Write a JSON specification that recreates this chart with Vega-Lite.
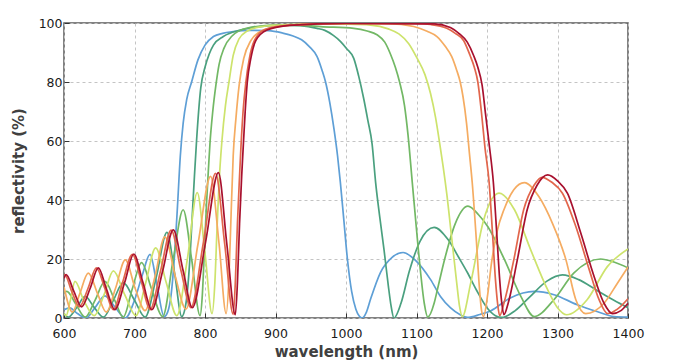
{
"$schema":"https://vega.github.io/schema/vega-lite/v6.json",
"width":564,"height":295,
"autosize":{"type":"none"},
"padding":{"left":64,"top":23,"right":52,"bottom":46},
"background":"white",
"config":{"view":{"stroke":"#5a5a5a","strokeWidth":1.5},"font":"DejaVu Sans"},
"data":{"values":[
{"s":1,"w":600,"r":2.8},{"s":1,"w":608,"r":3.4},{"s":1,"w":619,"r":1.5},{"s":1,"w":631,"r":0},{"s":1,"w":644,"r":3.5},{"s":1,"w":658,"r":7.5},{"s":1,"w":672,"r":3.8},{"s":1,"w":687,"r":0},{"s":1,"w":700,"r":6},{"s":1,"w":711,"r":14.5},{"s":1,"w":722,"r":21.6},{"s":1,"w":732,"r":11},{"s":1,"w":742,"r":0.5},{"s":1,"w":747,"r":2},{"s":1,"w":752,"r":8},{"s":1,"w":757,"r":22},{"s":1,"w":761,"r":38},{"s":1,"w":765,"r":55},{"s":1,"w":769,"r":66},{"s":1,"w":774,"r":74},{"s":1,"w":781,"r":80},{"s":1,"w":790,"r":87.5},{"s":1,"w":800,"r":92.5},{"s":1,"w":812,"r":95.4},{"s":1,"w":825,"r":96.5},{"s":1,"w":840,"r":97.1},{"s":1,"w":865,"r":97.5},{"s":1,"w":890,"r":97.4},{"s":1,"w":910,"r":96.6},{"s":1,"w":925,"r":95.6},{"s":1,"w":937,"r":94.3},{"s":1,"w":948,"r":92},{"s":1,"w":959,"r":88.6},{"s":1,"w":966,"r":84},{"s":1,"w":971,"r":80},{"s":1,"w":977,"r":73},{"s":1,"w":983,"r":64},{"s":1,"w":988,"r":55},{"s":1,"w":992,"r":46},{"s":1,"w":997,"r":33},{"s":1,"w":1002,"r":20},{"s":1,"w":1008,"r":9},{"s":1,"w":1014,"r":3},{"s":1,"w":1019,"r":0.6},{"s":1,"w":1023,"r":0},{"s":1,"w":1029,"r":2},{"s":1,"w":1035,"r":6.5},{"s":1,"w":1049,"r":15.5},{"s":1,"w":1065,"r":20.5},{"s":1,"w":1081,"r":22.2},{"s":1,"w":1100,"r":19.2},{"s":1,"w":1120,"r":13},{"s":1,"w":1134,"r":7.3},{"s":1,"w":1148,"r":3.5},{"s":1,"w":1162,"r":1.1},{"s":1,"w":1172,"r":0.2},{"s":1,"w":1190,"r":1.2},{"s":1,"w":1205,"r":2.4},{"s":1,"w":1233,"r":6.8},{"s":1,"w":1267,"r":9},{"s":1,"w":1295,"r":7.9},{"s":1,"w":1328,"r":4.5},{"s":1,"w":1356,"r":2.2},{"s":1,"w":1380,"r":0.5},{"s":1,"w":1400,"r":0.3},
{"s":2,"w":600,"r":1.5},{"s":2,"w":606,"r":0.3},{"s":2,"w":618,"r":3.5},{"s":2,"w":630,"r":7.3},{"s":2,"w":643,"r":3.5},{"s":2,"w":656,"r":0.3},{"s":2,"w":670,"r":6},{"s":2,"w":684,"r":12},{"s":2,"w":700,"r":6},{"s":2,"w":715,"r":0.3},{"s":2,"w":731,"r":14},{"s":2,"w":746,"r":29},{"s":2,"w":757,"r":15},{"s":2,"w":767,"r":0.5},{"s":2,"w":773,"r":5},{"s":2,"w":778,"r":18},{"s":2,"w":782,"r":35},{"s":2,"w":785,"r":48},{"s":2,"w":788,"r":60},{"s":2,"w":794,"r":78},{"s":2,"w":800,"r":85},{"s":2,"w":806,"r":89.5},{"s":2,"w":812,"r":92.5},{"s":2,"w":826,"r":95.4},{"s":2,"w":850,"r":97.6},{"s":2,"w":870,"r":98.5},{"s":2,"w":890,"r":99.1},{"s":2,"w":912,"r":99.3},{"s":2,"w":935,"r":99.1},{"s":2,"w":959,"r":98.2},{"s":2,"w":970,"r":97.5},{"s":2,"w":982,"r":95.8},{"s":2,"w":992,"r":93.8},{"s":2,"w":1001,"r":91.3},{"s":2,"w":1011,"r":88},{"s":2,"w":1018,"r":82},{"s":2,"w":1025,"r":74.5},{"s":2,"w":1031,"r":67},{"s":2,"w":1037,"r":59},{"s":2,"w":1042,"r":46},{"s":2,"w":1048,"r":34},{"s":2,"w":1054,"r":23},{"s":2,"w":1060,"r":11},{"s":2,"w":1064,"r":4},{"s":2,"w":1068,"r":0},{"s":2,"w":1078,"r":5},{"s":2,"w":1090,"r":16},{"s":2,"w":1105,"r":26},{"s":2,"w":1125,"r":30.7},{"s":2,"w":1145,"r":26.5},{"s":2,"w":1160,"r":20.5},{"s":2,"w":1172,"r":15.5},{"s":2,"w":1185,"r":9.5},{"s":2,"w":1200,"r":3.5},{"s":2,"w":1212,"r":0.8},{"s":2,"w":1221,"r":0.2},{"s":2,"w":1240,"r":2.5},{"s":2,"w":1260,"r":7},{"s":2,"w":1285,"r":12.5},{"s":2,"w":1307,"r":14.6},{"s":2,"w":1330,"r":13},{"s":2,"w":1355,"r":9.5},{"s":2,"w":1380,"r":6},{"s":2,"w":1400,"r":3.5},
{"s":3,"w":600,"r":8.5},{"s":3,"w":604,"r":9},{"s":3,"w":616,"r":5},{"s":3,"w":630,"r":0.3},{"s":3,"w":644,"r":6},{"s":3,"w":658,"r":12.4},{"s":3,"w":672,"r":6},{"s":3,"w":684,"r":0.3},{"s":3,"w":697,"r":10},{"s":3,"w":710,"r":18.8},{"s":3,"w":724,"r":10},{"s":3,"w":740,"r":0.5},{"s":3,"w":755,"r":20},{"s":3,"w":769,"r":36.7},{"s":3,"w":781,"r":20},{"s":3,"w":793,"r":0.8},{"s":3,"w":796,"r":7},{"s":3,"w":799,"r":22},{"s":3,"w":802,"r":38},{"s":3,"w":805,"r":51},{"s":3,"w":807,"r":59},{"s":3,"w":811,"r":70},{"s":3,"w":815.5,"r":79},{"s":3,"w":820,"r":86},{"s":3,"w":827,"r":91.5},{"s":3,"w":838,"r":95.5},{"s":3,"w":860,"r":98.3},{"s":3,"w":900,"r":99.3},{"s":3,"w":940,"r":99.2},{"s":3,"w":964,"r":98.8},{"s":3,"w":1011,"r":98.2},{"s":3,"w":1030,"r":97.3},{"s":3,"w":1044,"r":96},{"s":3,"w":1055,"r":93.5},{"s":3,"w":1063,"r":89.5},{"s":3,"w":1070,"r":85},{"s":3,"w":1076,"r":80},{"s":3,"w":1083,"r":72},{"s":3,"w":1088,"r":62},{"s":3,"w":1094,"r":46},{"s":3,"w":1100,"r":30},{"s":3,"w":1106,"r":15},{"s":3,"w":1111,"r":5},{"s":3,"w":1116,"r":0.3},{"s":3,"w":1125,"r":5},{"s":3,"w":1130,"r":10},{"s":3,"w":1140,"r":20},{"s":3,"w":1155,"r":32},{"s":3,"w":1173,"r":37.9},{"s":3,"w":1188,"r":35},{"s":3,"w":1201,"r":31},{"s":3,"w":1225,"r":19.7},{"s":3,"w":1248,"r":7.3},{"s":3,"w":1267,"r":0.5},{"s":3,"w":1295,"r":6.2},{"s":3,"w":1323,"r":15.2},{"s":3,"w":1361,"r":20},{"s":3,"w":1380,"r":19},{"s":3,"w":1400,"r":17},
{"s":4,"w":600,"r":1.5},{"s":4,"w":603,"r":0.8},{"s":4,"w":609,"r":6},{"s":4,"w":615.6,"r":12.4},{"s":4,"w":628,"r":6},{"s":4,"w":643,"r":0.8},{"s":4,"w":657,"r":8},{"s":4,"w":670,"r":16},{"s":4,"w":686,"r":8},{"s":4,"w":702,"r":0.8},{"s":4,"w":716,"r":12},{"s":4,"w":730,"r":23.8},{"s":4,"w":745,"r":12},{"s":4,"w":760,"r":0.8},{"s":4,"w":775,"r":20},{"s":4,"w":789,"r":42.5},{"s":4,"w":800,"r":22},{"s":4,"w":810,"r":1.5},{"s":4,"w":814,"r":12},{"s":4,"w":817,"r":30},{"s":4,"w":820,"r":46},{"s":4,"w":824,"r":60},{"s":4,"w":829,"r":72},{"s":4,"w":834,"r":80},{"s":4,"w":840,"r":89},{"s":4,"w":848,"r":94.5},{"s":4,"w":860,"r":97.3},{"s":4,"w":880,"r":98.8},{"s":4,"w":920,"r":99.5},{"s":4,"w":960,"r":99.7},{"s":4,"w":1000,"r":99.6},{"s":4,"w":1035,"r":99.3},{"s":4,"w":1060,"r":98},{"s":4,"w":1075,"r":96.3},{"s":4,"w":1089,"r":93},{"s":4,"w":1101,"r":88},{"s":4,"w":1112,"r":82.5},{"s":4,"w":1120,"r":76},{"s":4,"w":1127,"r":68},{"s":4,"w":1133,"r":59},{"s":4,"w":1138,"r":51},{"s":4,"w":1143,"r":42},{"s":4,"w":1150,"r":27},{"s":4,"w":1157,"r":12},{"s":4,"w":1161,"r":4},{"s":4,"w":1165,"r":0.5},{"s":4,"w":1177,"r":12},{"s":4,"w":1195,"r":33},{"s":4,"w":1217,"r":42.3},{"s":4,"w":1239,"r":36.7},{"s":4,"w":1262,"r":23.1},{"s":4,"w":1286,"r":9.6},{"s":4,"w":1300,"r":3.5},{"s":4,"w":1313,"r":1.1},{"s":4,"w":1342,"r":6.2},{"s":4,"w":1371,"r":17.5},{"s":4,"w":1400,"r":23.4},
{"s":5,"w":600,"r":10.5},{"s":5,"w":612,"r":2},{"s":5,"w":622,"r":8},{"s":5,"w":634.5,"r":15.2},{"s":5,"w":648,"r":8},{"s":5,"w":660,"r":2},{"s":5,"w":673,"r":10},{"s":5,"w":687,"r":19.7},{"s":5,"w":701,"r":10},{"s":5,"w":715,"r":2.5},{"s":5,"w":729,"r":14},{"s":5,"w":743,"r":27.5},{"s":5,"w":758,"r":14},{"s":5,"w":773,"r":3},{"s":5,"w":790,"r":25},{"s":5,"w":808,"r":48},{"s":5,"w":820,"r":25},{"s":5,"w":830,"r":1.5},{"s":5,"w":834,"r":14},{"s":5,"w":837,"r":35},{"s":5,"w":840,"r":55},{"s":5,"w":844,"r":68},{"s":5,"w":848.5,"r":79},{"s":5,"w":855,"r":88},{"s":5,"w":865,"r":94},{"s":5,"w":880,"r":97.3},{"s":5,"w":910,"r":99},{"s":5,"w":960,"r":99.7},{"s":5,"w":1000,"r":99.9},{"s":5,"w":1060,"r":99.8},{"s":5,"w":1096,"r":98.8},{"s":5,"w":1115,"r":97.2},{"s":5,"w":1129,"r":95.4},{"s":5,"w":1141,"r":92},{"s":5,"w":1150,"r":88.6},{"s":5,"w":1157,"r":84},{"s":5,"w":1162,"r":80},{"s":5,"w":1166,"r":75},{"s":5,"w":1171,"r":66},{"s":5,"w":1175,"r":56},{"s":5,"w":1179,"r":46},{"s":5,"w":1185,"r":26},{"s":5,"w":1189,"r":11},{"s":5,"w":1192,"r":3},{"s":5,"w":1195,"r":0.5},{"s":5,"w":1201,"r":8},{"s":5,"w":1206,"r":18},{"s":5,"w":1215,"r":30},{"s":5,"w":1224,"r":36.7},{"s":5,"w":1238,"r":43.5},{"s":5,"w":1253,"r":45.9},{"s":5,"w":1274,"r":41},{"s":5,"w":1293,"r":32},{"s":5,"w":1312,"r":19.7},{"s":5,"w":1326,"r":6.2},{"s":5,"w":1340,"r":1.5},{"s":5,"w":1366,"r":5},{"s":5,"w":1385,"r":11.8},{"s":5,"w":1400,"r":17.3},
{"s":6,"w":600,"r":14.5},{"s":6,"w":601,"r":14.7},{"s":6,"w":611,"r":9},{"s":6,"w":622,"r":3.8},{"s":6,"w":634,"r":10},{"s":6,"w":646,"r":17},{"s":6,"w":658,"r":10},{"s":6,"w":670,"r":2.8},{"s":6,"w":683,"r":12},{"s":6,"w":697,"r":21.6},{"s":6,"w":710,"r":12},{"s":6,"w":722,"r":2.8},{"s":6,"w":737,"r":16},{"s":6,"w":752,"r":29.8},{"s":6,"w":766,"r":16},{"s":6,"w":780,"r":3.5},{"s":6,"w":798,"r":26},{"s":6,"w":815,"r":49},{"s":6,"w":828,"r":25},{"s":6,"w":840,"r":1.2},{"s":6,"w":843,"r":12},{"s":6,"w":846,"r":32},{"s":6,"w":849,"r":48},{"s":6,"w":851,"r":58},{"s":6,"w":854,"r":70},{"s":6,"w":858,"r":80},{"s":6,"w":863,"r":88},{"s":6,"w":870,"r":94},{"s":6,"w":885,"r":97.8},{"s":6,"w":920,"r":99.3},{"s":6,"w":1000,"r":99.9},{"s":6,"w":1100,"r":99.8},{"s":6,"w":1120,"r":99.5},{"s":6,"w":1143,"r":98.2},{"s":6,"w":1155,"r":96.5},{"s":6,"w":1167,"r":94},{"s":6,"w":1176,"r":89},{"s":6,"w":1182,"r":85},{"s":6,"w":1187,"r":80},{"s":6,"w":1192,"r":70},{"s":6,"w":1197,"r":58},{"s":6,"w":1203,"r":46},{"s":6,"w":1208,"r":28},{"s":6,"w":1212,"r":13},{"s":6,"w":1215,"r":5},{"s":6,"w":1218,"r":0.8},{"s":6,"w":1224,"r":5},{"s":6,"w":1238,"r":19.7},{"s":6,"w":1252,"r":36.7},{"s":6,"w":1267,"r":45.1},{"s":6,"w":1278,"r":47.7},{"s":6,"w":1292,"r":46},{"s":6,"w":1307,"r":42.3},{"s":6,"w":1326,"r":31},{"s":6,"w":1345,"r":16.4},{"s":6,"w":1359,"r":6.2},{"s":6,"w":1371,"r":1.5},{"s":6,"w":1385,"r":3},{"s":6,"w":1400,"r":6.5},
{"s":7,"w":600,"r":13.4},{"s":7,"w":603,"r":14.7},{"s":7,"w":614,"r":9},{"s":7,"w":625,"r":3.8},{"s":7,"w":637,"r":10},{"s":7,"w":648.7,"r":17},{"s":7,"w":660,"r":10},{"s":7,"w":672,"r":2.8},{"s":7,"w":686,"r":12},{"s":7,"w":699,"r":21.7},{"s":7,"w":712,"r":12},{"s":7,"w":724.5,"r":2.8},{"s":7,"w":740,"r":16},{"s":7,"w":755,"r":29.9},{"s":7,"w":769,"r":16},{"s":7,"w":782,"r":3.5},{"s":7,"w":801,"r":26},{"s":7,"w":819,"r":49.3},{"s":7,"w":831,"r":25},{"s":7,"w":843,"r":1.1},{"s":7,"w":846,"r":12},{"s":7,"w":849,"r":32},{"s":7,"w":852,"r":48},{"s":7,"w":854,"r":57},{"s":7,"w":857,"r":70},{"s":7,"w":860,"r":80},{"s":7,"w":865,"r":88},{"s":7,"w":872,"r":94},{"s":7,"w":888,"r":97.6},{"s":7,"w":920,"r":99.2},{"s":7,"w":1000,"r":99.9},{"s":7,"w":1125,"r":99.7},{"s":7,"w":1148,"r":98.5},{"s":7,"w":1160,"r":96.5},{"s":7,"w":1172,"r":93.5},{"s":7,"w":1181,"r":89},{"s":7,"w":1187,"r":85},{"s":7,"w":1193,"r":79},{"s":7,"w":1198,"r":69},{"s":7,"w":1203,"r":59},{"s":7,"w":1209,"r":46},{"s":7,"w":1214,"r":28},{"s":7,"w":1218,"r":13},{"s":7,"w":1221,"r":5},{"s":7,"w":1224,"r":1.1},{"s":7,"w":1230,"r":5},{"s":7,"w":1243,"r":19.7},{"s":7,"w":1257,"r":36.7},{"s":7,"w":1271,"r":45},{"s":7,"w":1286,"r":48.5},{"s":7,"w":1300,"r":46.5},{"s":7,"w":1314,"r":42.3},{"s":7,"w":1333,"r":28.8},{"s":7,"w":1352,"r":14},{"s":7,"w":1366,"r":5},{"s":7,"w":1378,"r":1.5},{"s":7,"w":1390,"r":2.5},{"s":7,"w":1400,"r":5}
]},
"mark":{"type":"line","interpolate":"monotone","strokeWidth":1.7,"clip":true},
"encoding":{
"x":{"field":"w","type":"quantitative","scale":{"domain":[600,1400],"nice":false,"zero":false},
"axis":{"title":"wavelength (nm)","values":[600,700,800,900,1000,1100,1200,1300,1400],"format":"d","grid":true,"gridDash":[3,3],"gridColor":"#c4c4c4","domain":false,"tickSize":-5,"tickColor":"#333333","labelFontSize":12.5,"labelColor":"#1a1a1a","labelPadding":14,"labelFlush":false,"titleFontSize":15,"titleFontWeight":"bold","titleColor":"#404040","titlePadding":5}},
"y":{"field":"r","type":"quantitative","scale":{"domain":[0,100],"nice":false},
"axis":{"title":"reflectivity (%)","values":[0,20,40,60,80,100],"grid":true,"gridDash":[3,3],"gridColor":"#c4c4c4","domain":false,"tickSize":-5,"tickColor":"#333333","labelFontSize":12.5,"labelColor":"#1a1a1a","labelPadding":7,"titleFontSize":15,"titleFontWeight":"bold","titleColor":"#404040","titlePadding":12}},
"color":{"field":"s","type":"nominal","scale":{"domain":[1,2,3,4,5,6,7],"range":["#5e9fd6","#4aa07f","#72b865","#cde36c","#f5ac62","#e2664c","#a8102e"]},"legend":null}
}
}
